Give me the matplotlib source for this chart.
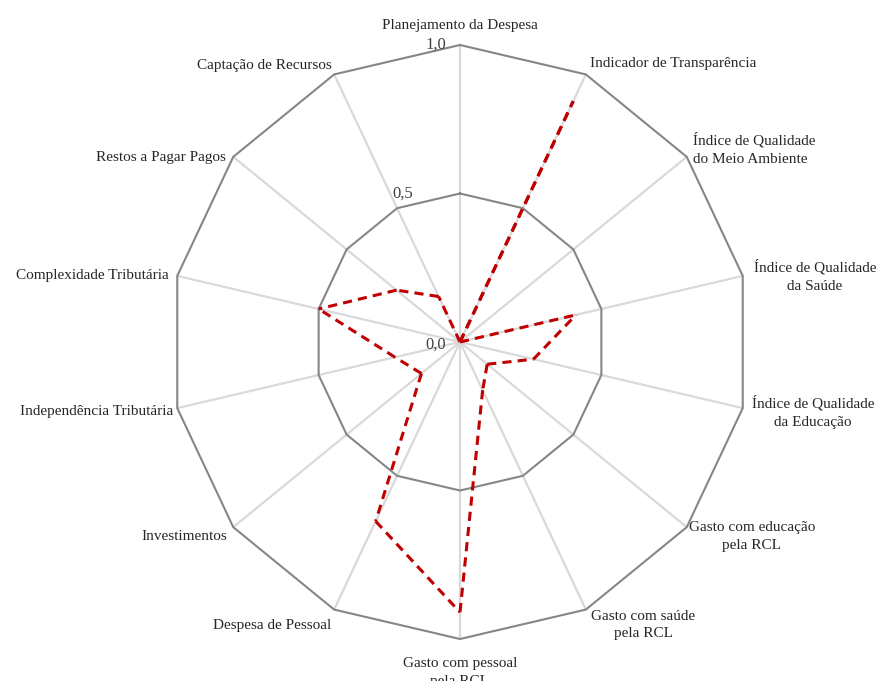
import numpy as np
import matplotlib.pyplot as plt

# eixos do radar, sentido horario a partir do topo
categorias = [
    "Planejamento da Despesa",
    "Indicador de Transparência",
    "Índice de Qualidade\ndo Meio Ambiente",
    "Índice de Qualidade\nda Saúde",
    "Índice de Qualidade\nda Educação",
    "Gasto com educação\npela RCL",
    "Gasto com saúde\npela RCL",
    "Gasto com pessoal\npela RCL",
    "Despesa de Pessoal",
    "Investimentos",
    "Independência Tributária",
    "Complexidade Tributária",
    "Restos a Pagar Pagos",
    "Captação de Recursos",
]
valores = [0.0, 0.90, 0.0, 0.41, 0.26, 0.12, 0.18, 0.91, 0.67, 0.17, 0.23, 0.50, 0.28, 0.17]
ticks = [0.0, 0.5, 1.0]
tick_labels = ["0,0", "0,5", "1,0"]

# posicao dos rotulos em pixels (x, y, ha)
pos_rotulos = [
    (460, 25, "center"), (590, 64, "left"), (693, 149, "left"),
    (815, 276, "center"), (813, 412, "center"), (752, 536, "center"),
    (643, 625, "center"), (460, 672, "center"), (331, 625, "right"),
    (227, 537, "right"), (173, 411, "right"), (169, 276, "right"),
    (226, 157, "right"), (332, 66, "right"),
]
pos_ticks = [(446, 345), (413, 194), (446, 45)]

plt.rcParams['font.family'] = ['Liberation Serif', 'DejaVu Serif']

W, H = 877, 681
fig = plt.figure(figsize=(W / 100, H / 100), dpi=100)
cx, cy, rx, ry = 460, 342, 290, 297
ax = fig.add_axes([(cx - rx) / W, 1 - (cy + ry) / H, 2 * rx / W, 2 * ry / H],
                  projection='polar')
ax.set_aspect('auto')
ax.set_theta_zero_location('N')
ax.set_theta_direction(-1)
ax.set_ylim(0, 1)
ax.grid(False)
ax.set_xticks([])
ax.set_yticks([])
ax.spines['polar'].set_visible(False)
ax.patch.set_alpha(0)

n = len(categorias)
ang = np.linspace(0, 2 * np.pi, n, endpoint=False)
ang_c = np.append(ang, ang[0])

for a in ang:
    ax.plot([a, a], [0, 1], color='#d9d9d9', lw=1.6, zorder=1, clip_on=False)
for t in ticks[1:]:
    ax.plot(ang_c, [t] * (n + 1), color='#868686', lw=1.5, zorder=2, clip_on=False)

# cada trecho comeca no ponto mais perto do centro, assim os tracos
# de ida e volta no mesmo eixo ficam alinhados
for i in range(n):
    j = (i + 1) % n
    a0, a1, v0, v1 = ang[i], ang[j], valores[i], valores[j]
    if j == 0:
        a1 = 2 * np.pi
    if v1 < v0:
        a0, a1, v0, v1 = a1, a0, v1, v0
    ax.plot([a0, a1], [v0, v1], color='#c00000', lw=2.2, ls=(0, (3, 2)),
            solid_capstyle='butt', zorder=3, clip_on=False)

for (x, y, ha), lab in zip(pos_rotulos, categorias):
    fig.text(x / W, 1 - y / H, lab, ha=ha, va='center', fontsize=11,
             linespacing=1.5, color='#262626')
for (x, y), lab in zip(pos_ticks, tick_labels):
    fig.text(x / W, 1 - y / H, lab, ha='right', va='center', fontsize=12, color='#404040')

fig.savefig('out.png', dpi=100)
